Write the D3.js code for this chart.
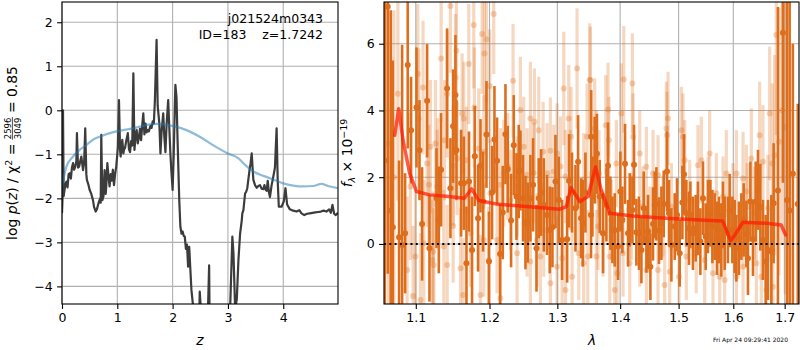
<!DOCTYPE html>
<html>
<head>
<meta charset="utf-8">
<script src="https://cdn.jsdelivr.net/npm/d3@7"></script>
<style>
  body { margin: 0; background: #fff; }
  svg { font-family: "DejaVu Sans", sans-serif; }
</style>
</head>
<body>
<svg id="chart" width="800" height="350"></svg>
<script>
// ---- Left panel: redshift probability ----
const zTicks = [0, 1, 2, 3, 4];
const pzTicks = [-4, -3, -2, -1, 0, 1, 2];
const pzZ = [0.000, 0.012, 0.018, 0.030, 0.036, 0.06, 0.08, 0.10, 0.12, 0.14, 0.16, 0.18, 0.20, 0.22, 0.24, 0.26, 0.27, 0.29, 0.31, 0.33,
  0.35, 0.37, 0.38, 0.40, 0.42, 0.44, 0.45, 0.48, 0.50, 0.53, 0.56, 0.58, 0.61, 0.63, 0.66, 0.69, 0.70, 0.71, 0.73, 0.75,
  0.77, 0.79, 0.80, 0.82, 0.84, 0.86, 0.88, 0.90, 0.92, 0.94, 0.96, 0.98, 1.00, 1.01, 1.03, 1.05, 1.06, 1.08, 1.09, 1.11,
  1.12, 1.14, 1.16, 1.19, 1.21, 1.23, 1.25, 1.27, 1.29, 1.31, 1.33, 1.35, 1.37, 1.39, 1.41, 1.43, 1.45, 1.47, 1.49, 1.51,
  1.53, 1.55, 1.57, 1.60, 1.62, 1.64, 1.66, 1.68, 1.71, 1.73, 1.76, 1.78, 1.80, 1.83, 1.85, 1.87, 1.89, 1.92, 1.94, 1.96,
  1.98, 2.00, 2.02, 2.04, 2.05, 2.07, 2.09, 2.12, 2.14, 2.16, 2.18, 2.20, 2.22, 2.24, 2.26, 2.28, 2.30, 2.32, 2.34, 2.37,
  2.40, 2.45, 2.48, 2.49, 2.51, 2.53, 2.60, 2.64, 2.66, 2.67, 2.75, 2.90, 3.00, 3.04, 3.08, 3.10, 3.13, 3.16, 3.19, 3.22,
  3.25, 3.26, 3.28, 3.31, 3.33, 3.35, 3.39, 3.41, 3.43, 3.45, 3.46, 3.49, 3.52, 3.55, 3.58, 3.61, 3.64, 3.66, 3.68, 3.70,
  3.72, 3.74, 3.76, 3.79, 3.82, 3.85, 3.88, 3.90, 3.92, 3.97, 4.01, 4.04, 4.07, 4.12, 4.18, 4.24, 4.29, 4.33, 4.38, 4.43,
  4.48, 4.53, 4.58, 4.63, 4.68, 4.73, 4.78, 4.83, 4.86, 4.89, 4.92, 4.95, 4.99];
const pzLog = [-2.34, -1.90, 0.00, -1.95, -1.89, -1.70, -1.62, -1.75, -1.45, -1.43, -1.55, -1.30, -1.20, -1.35, -1.28, -1.15, -0.52, -1.30, -1.28, -1.15,
  -1.05, -1.25, -1.36, -1.20, -0.41, -1.45, -1.58, -1.70, -1.81, -1.90, -2.04, -2.20, -2.30, -2.25, -2.11, -2.00, -2.10, -0.56, -2.04, -1.95,
  -1.36, -1.90, -1.73, -1.20, -1.50, -1.73, -1.45, -1.60, -1.35, -1.70, -1.45, -1.28, -1.00, -0.83, 0.23, -0.90, -1.05, -0.80, -0.67, -0.98,
  -0.90, -0.85, -0.70, -0.52, -0.88, -0.95, -0.70, -0.80, 0.84, -0.90, -0.60, -0.45, -0.75, -0.62, -0.42, -0.68, -0.35, -0.07, -0.55, -0.30,
  -0.50, -0.45, -0.48, -0.35, -0.40, -0.25, -0.30, 0.23, 1.60, 0.10, -0.30, -0.98, -0.50, -0.07, -0.60, -0.95, -0.35, 0.23, -0.40, -1.00,
  -1.43, -1.81, -1.00, 0.10, 0.58, 0.30, -0.70, -2.04, -2.64, -2.80, -2.75, -2.85, -2.87, -3.15, -3.05, -3.55, -3.10, -3.60, -4.08, -4.45,
  -5.50, -6.20, -4.80, -4.12, -4.50, -5.20, -5.80, -4.50, -3.52, -5.00, -6.00, -6.50, -5.50, -4.50, -2.87, -3.25, -4.50, -4.30, -3.40, -2.80,
  -2.50, -2.34, -2.27, -1.89, -1.85, -1.77, -1.36, -1.20, -0.98, -1.40, -1.58, -1.70, -1.76, -1.72, -1.70, -1.78, -1.79, -1.70, -1.80, -1.83,
  -1.60, -1.85, -1.97, -1.70, -1.51, -1.30, -0.41, -1.60, -2.19, -2.19, -2.07, -1.77, -2.14, -2.25, -2.28, -2.30, -2.27, -2.34, -2.38, -2.35,
  -2.34, -2.33, -2.32, -2.31, -2.30, -2.28, -2.30, -2.25, -2.33, -2.15, -2.35, -2.38, -2.33];
const priorZ = [0.00, 0.08, 0.20, 0.32, 0.44, 0.56, 0.68, 0.98, 1.29, 1.59, 1.71, 2.01, 2.25, 2.49, 2.73, 3.00, 3.19, 3.31, 3.46, 3.64,
  3.82, 4.00, 4.18, 4.36, 4.54, 4.69, 4.81, 4.99];
const priorLog = [-1.73, -1.28, -1.05, -0.90, -0.79, -0.67, -0.60, -0.48, -0.41, -0.32, -0.31, -0.36, -0.45, -0.60, -0.79, -0.98, -1.09, -1.24, -1.39, -1.49,
  -1.57, -1.66, -1.71, -1.73, -1.72, -1.67, -1.72, -1.77];

// ---- Right panel: spectrum ----
const lamTicks = [1.1, 1.2, 1.3, 1.4, 1.5, 1.6, 1.7];
const fluxTicks = [0, 2, 4, 6];
const darkLam = [1.0605, 1.0642, 1.0680, 1.0706, 1.0785, 1.0824, 1.0862, 1.0896, 1.0939, 1.1009, 1.1048, 1.1082, 1.1148, 1.1179, 1.1272, 1.1303, 1.1333, 1.1414, 1.1459, 1.1495,
  1.1527, 1.1541, 1.1604, 1.1641, 1.1678, 1.1713, 1.1755, 1.1793, 1.1839, 1.1873, 1.1909, 1.1957, 1.1993, 1.2036, 1.2070, 1.2107, 1.2150, 1.2189, 1.2228, 1.2261,
  1.2309, 1.2348, 1.2388, 1.2421, 1.2446, 1.2484, 1.2520, 1.2554, 1.2593, 1.2633, 1.2684, 1.2718, 1.2753, 1.2794, 1.2843, 1.2884, 1.2925, 1.2971, 1.3022, 1.3073,
  1.3151, 1.3181, 1.3227, 1.3281, 1.3322, 1.3369, 1.3395, 1.3438, 1.3527, 1.3530, 1.3549, 1.3585, 1.3622, 1.3666, 1.3720, 1.3775, 1.3801, 1.3840, 1.3873, 1.3911,
  1.3965, 1.4004, 1.4037, 1.4081, 1.4131, 1.4159, 1.4204, 1.4231, 1.4271, 1.4315, 1.4356, 1.4395, 1.4441, 1.4468, 1.4509, 1.4554, 1.4583, 1.4612, 1.4657, 1.4699,
  1.4739, 1.4796, 1.4831, 1.4873, 1.4931, 1.4972, 1.5019, 1.5067, 1.5096, 1.5138, 1.5185, 1.5210, 1.5256, 1.5305, 1.5346, 1.5390, 1.5438, 1.5487, 1.5529, 1.5573,
  1.5610, 1.5652, 1.5695, 1.5732, 1.5776, 1.5806, 1.5838, 1.5899, 1.5931, 1.5982, 1.6026, 1.6058, 1.6107, 1.6153, 1.6197, 1.6249, 1.6279, 1.6326, 1.6376, 1.6428,
  1.6473, 1.6519, 1.6570, 1.6623, 1.6668, 1.6735, 1.6780, 1.6865, 1.6965, 1.7046, 1.7100, 1.7165, 1.7265];
const darkFlux = [2.5, 7.11, 1.0, 0.5, 0.2, -0.03, 0.32, 5.36, 3.41, 4.09, 2.81, 0.60, 4.29, -0.13, 1.37, 0.72, 2.22, 4.66, 1.67, 3.53,
  4.46, 2.81, 1.82, 1.82, -0.58, 1.87, -0.18, 2.63, 0.77, 2.34, 1.27, 3.28, -0.53, 1.54, 3.13, 2.49, -0.30, 0.94, 3.29, 2.24,
  0.70, 2.96, 1.42, 2.17, 2.20, 1.37, 0.64, 0.64, 1.37, 1.77, -0.13, 1.37, 1.54, 1.17, 0.87, 0.42, 0.50, 1.87, 1.32, 0.12,
  0.14, 1.89, 1.54, 1.07, 2.46, 0.77, 0.62, 1.54, 0.87, 3.21, 1.42, 2.51, 2.70, 1.42, 0.32, 1.17, 2.34, 0.92, 0.42, 0.42,
  -0.08, 1.57, 0.72, 2.40, 0.32, 1.02, 1.02, 2.37, 0.35, 0.32, -0.18, 1.07, 0.14, 0.37, -0.68, 0.60, 1.17, 1.20, 0.40, 0.62,
  1.20, 2.17, 0.92, -0.03, 0.52, 0.87, -0.28, 1.24, 2.09, 0.92, 0.47, 0.87, 0.32, 0.47, 0.77, 0.07, 1.37, 0.22, 0.82, 0.92,
  0.52, 0.52, 0.17, 0.42, 0.12, 0.87, 0.32, 0.42, 1.00, 0.42, 0.22, -0.13, 0.17, 0.52, 0.72, 0.30, -0.43, 1.27, 0.14, 1.27,
  1.62, 1.10, 0.12, -0.53, -0.18, -0.23, 1.22, 1.60, 6.33, 1.32, 1.00, 2.10, 1.20];
const darkErr = [7.0, 8.0, 6.0, 5.0, 2.3, 6.0, 1.8, 2.5, 1.6, 1.8, 1.5, 1.7, 1.7, 1.6, 1.5, 1.6, 1.7, 1.8, 1.5, 1.7,
  1.8, 1.5, 1.6, 1.4, 1.7, 1.5, 1.6, 1.5, 1.6, 1.4, 1.5, 1.6, 1.5, 1.4, 1.6, 1.3, 1.5, 1.4, 1.5, 1.3,
  1.4, 1.5, 1.3, 1.4, 1.2, 1.3, 1.4, 1.2, 1.3, 1.4, 1.3, 1.2, 1.3, 1.4, 1.2, 1.3, 1.2, 1.4, 1.3, 1.2,
  1.3, 1.4, 1.2, 1.3, 1.4, 1.2, 1.3, 1.2, 1.3, 1.4, 1.2, 1.3, 1.2, 1.1, 1.2, 1.1, 1.3, 1.1, 1.0, 1.1,
  1.0, 1.2, 1.0, 1.2, 1.0, 1.1, 1.0, 1.2, 1.0, 1.1, 1.0, 1.1, 1.0, 1.1, 1.0, 1.1, 1.0, 1.1, 1.0, 1.1,
  1.0, 1.2, 1.0, 1.1, 1.0, 1.1, 1.0, 1.1, 1.2, 1.0, 1.1, 1.0, 1.1, 1.0, 1.1, 1.0, 1.1, 1.0, 1.1, 1.0,
  1.1, 1.0, 1.1, 1.0, 1.1, 1.0, 1.1, 1.0, 1.1, 1.0, 1.1, 1.0, 1.1, 1.0, 1.1, 1.0, 1.1, 1.2, 1.1, 1.2,
  1.2, 1.3, 1.2, 1.4, 1.5, 1.7, 1.8, 5.5, 4.5, 6.5, 7.0, 3.9, 3.0];
const lightLam = [1.0650, 1.0720, 1.0770, 1.1459, 1.1779, 1.1896, 1.1957, 1.1928, 1.1541, 1.1334, 1.1710, 1.1026, 1.1095, 1.1415, 1.2060, 1.2003, 1.1788, 1.1528, 1.1618, 1.1641,
  1.1258, 1.1379, 1.1192, 1.1039, 1.1148, 1.0931, 1.1170, 1.1289, 1.1496, 1.1550, 1.1849, 1.1678, 1.1919, 1.2013, 1.2155, 1.2261, 1.2338, 1.2445, 1.2593, 1.2653,
  1.2494, 1.2718, 1.2783, 1.2894, 1.2996, 1.3099, 1.3176, 1.3213, 1.3306, 1.3464, 1.3506, 1.2843, 1.2945, 1.3048, 1.3125, 1.3202, 1.3411, 1.2643, 1.2544, 1.2397,
  1.2203, 1.2300, 1.1281, 1.1227, 1.1236, 1.1415, 1.1496, 1.1596, 1.1632, 1.1872, 1.2155, 1.1988, 1.1061, 1.0965, 1.0888, 1.0995, 1.1104, 1.1214, 1.1370, 1.1733,
  1.1919, 1.2107, 1.2397, 1.2593, 1.2743, 1.2894, 1.2996, 1.3125, 1.3228, 1.3332, 1.3411, 1.3475, 1.2544, 1.2793, 1.3073, 1.2693, 1.3517, 1.3586, 1.3613, 1.3655,
  1.3764, 1.3802, 1.3815, 1.3938, 1.4021, 1.4060, 1.4204, 1.4215, 1.4327, 1.4440, 1.4554, 1.4640, 1.4785, 1.4797, 1.4814, 1.5049, 1.5078, 1.5108, 1.5347, 1.5408,
  1.5560, 1.5683, 1.5869, 1.6058, 1.6185, 1.6248, 1.6344, 1.6505, 1.6570, 1.6701, 1.6754, 1.6833, 1.6886, 1.6800, 1.3613, 1.3720, 1.3829, 1.3911, 1.3949, 1.4048,
  1.4159, 1.4327, 1.4440, 1.4640, 1.4756, 1.4843, 1.5007, 1.5137, 1.5316, 1.5469, 1.5621, 1.5745, 1.5838, 1.6058, 1.6185, 1.6441, 1.6538, 1.6636, 1.6767, 1.3639,
  1.3856, 1.4187, 1.4384, 1.4497, 1.4727, 1.4872, 1.5197, 1.5530, 1.5807, 1.5994, 1.6265, 1.6408, 1.6668, 1.6950, 1.7010];
const lightFlux = [3.0, 2.0, 4.5, 7.13, 6.56, 6.29, 6.13, 5.71, 5.79, 5.56, 5.39, 5.09, 4.69, 4.49, 6.89, 4.73, 4.09, 4.99, 3.91, 3.76,
  3.01, 3.11, 2.91, 3.76, 2.41, 1.72, 1.77, 2.07, 2.34, 2.56, 2.86, 2.51, 2.76, 1.52, 1.77, 2.32, 4.89, 4.01, 3.76, 3.66,
  2.91, 3.41, 2.76, 2.79, 2.71, 4.66, 3.76, 3.21, 5.26, 3.21, 4.91, 2.12, 2.17, 2.32, 2.02, 1.92, 1.92, 2.12, 2.07, 1.72,
  2.12, 1.32, 1.72, -0.23, -0.63, -0.63, 0.54, -0.73, -1.53, -1.53, -1.63, -0.48, -1.68, -1.56, -0.78, -0.38, 0.02, -0.48, -0.08, 0.32,
  0.12, 0.12, -0.28, -0.53, -0.38, -1.18, -0.68, -1.38, -0.98, -0.28, -0.58, -0.38, 0.52, 0.42, -0.43, 0.12, 4.91, 3.46, 2.61, 2.11,
  3.56, 4.03, 3.11, 2.41, 3.91, 4.93, 4.81, 3.21, 2.71, 2.31, 2.11, 2.06, 3.46, 3.26, 3.76, 3.41, 3.21, 2.51, 2.36, 2.51,
  2.71, 1.52, 2.11, 2.11, 1.96, 1.57, 2.56, 3.26, 2.46, 3.91, 2.41, 6.26, 3.06, 2.66, -0.38, 0.32, -0.38, -1.38, -0.88, -0.28,
  -0.58, 0.02, -0.78, -0.78, -1.23, -0.83, -0.98, -0.38, -0.28, -0.48, -0.88, -0.98, -1.08, -0.98, -0.68, -0.58, -0.98, -1.38, -1.28, 0.52,
  0.72, 0.82, 1.12, 0.42, 0.82, 1.12, 1.32, 1.32, 1.42, 1.12, 1.12, 0.92, 1.07, 4.0, 3.5];
const lightErr = [6.0, 5.0, 3.2, 2.0, 1.9, 1.8, 1.9, 1.7, 2.0, 1.9, 1.8, 2.1, 2.0, 1.9, 1.8, 1.7, 1.8, 1.9, 1.8, 1.7,
  1.9, 1.8, 2.0, 2.1, 1.9, 2.2, 1.8, 1.7, 1.8, 1.7, 1.8, 1.6, 1.7, 1.6, 1.7, 1.6, 1.7, 1.6, 1.7, 1.6,
  1.5, 1.6, 1.5, 1.6, 1.5, 1.7, 1.6, 1.5, 1.8, 1.6, 1.7, 1.5, 1.4, 1.5, 1.4, 1.5, 1.4, 1.5, 1.4, 1.5,
  1.6, 1.5, 1.7, 1.8, 1.7, 1.8, 1.7, 1.8, 1.7, 1.8, 1.7, 1.6, 2.0, 2.1, 2.2, 2.0, 1.9, 1.8, 1.7, 1.6,
  1.7, 1.6, 1.5, 1.6, 1.5, 1.6, 1.5, 1.6, 1.5, 1.4, 1.5, 1.4, 1.5, 1.4, 1.5, 1.4, 1.6, 1.5, 1.4, 1.3,
  1.5, 1.4, 1.3, 1.3, 1.5, 1.6, 1.5, 1.3, 1.3, 1.2, 1.3, 1.2, 1.4, 1.3, 1.4, 1.3, 1.3, 1.2, 1.2, 1.3,
  1.3, 1.2, 1.3, 1.3, 1.4, 1.4, 1.5, 1.6, 1.7, 2.0, 2.4, 3.0, 4.0, 3.0, 1.4, 1.3, 1.4, 1.3, 1.3, 1.3,
  1.2, 1.3, 1.2, 1.3, 1.2, 1.3, 1.2, 1.3, 1.2, 1.3, 1.2, 1.3, 1.2, 1.3, 1.3, 1.4, 1.5, 1.6, 1.8, 1.3,
  1.2, 1.3, 1.2, 1.3, 1.2, 1.3, 1.2, 1.3, 1.2, 1.3, 1.3, 1.4, 1.6, 4.0, 5.0];
const modelLam = [1.073, 1.078, 1.0836, 1.092, 1.101, 1.118, 1.140, 1.165, 1.175, 1.185, 1.197, 1.209, 1.253, 1.304, 1.314, 1.321, 1.335, 1.348, 1.360, 1.369,
  1.383, 1.421, 1.478, 1.538, 1.580, 1.587, 1.595, 1.603, 1.618, 1.664, 1.693, 1.702];
const modelFlux = [3.26, 4.05, 3.11, 2.12, 1.57, 1.47, 1.43, 1.37, 1.65, 1.30, 1.25, 1.20, 1.12, 1.04, 1.12, 1.69, 1.27, 1.42, 2.31, 1.62,
  0.92, 0.84, 0.77, 0.72, 0.69, 0.42, 0.10, 0.27, 0.65, 0.62, 0.57, 0.27];

const ORANGE = "#de6e1c";
const GRID = "#b0b0b0";
const svg = d3.select("#chart");

// Frame, grid and axes for one panel
function DrawAxes(box, x, y, xTicks, yTicks, xFmt, yFmt) {
    const grid = svg.append("g");
    grid.selectAll(".gx").data(xTicks).join("line")
        .attr("x1", d => x(d)).attr("x2", d => x(d))
        .attr("y1", box.top).attr("y2", box.bottom)
        .attr("stroke", GRID).attr("stroke-width", 1.1);
    grid.selectAll(".gy").data(yTicks).join("line")
        .attr("x1", box.left).attr("x2", box.right)
        .attr("y1", d => y(d)).attr("y2", d => y(d))
        .attr("stroke", GRID).attr("stroke-width", 1.1);
}

function FinishAxes(box, x, y, xTicks, yTicks, xFmt, yFmt) {
    const ax = svg.append("g").attr("transform", `translate(0,${box.bottom})`)
        .call(d3.axisBottom(x).tickValues(xTicks).tickFormat(xFmt).tickSize(4.9).tickPadding(4.5));
    const ay = svg.append("g").attr("transform", `translate(${box.left},0)`)
        .call(d3.axisLeft(y).tickValues(yTicks).tickFormat(yFmt).tickSize(4.9).tickPadding(4.5));
    [ax, ay].forEach(a => {
        a.select(".domain").remove();
        a.selectAll("line").attr("stroke", "#000").attr("stroke-width", 1.1);
        a.selectAll("text").attr("font-size", 12.5).attr("fill", "#000")
            .attr("font-family", "DejaVu Sans, sans-serif");
    });
    svg.append("rect").attr("x", box.left).attr("y", box.top)
        .attr("width", box.right - box.left).attr("height", box.bottom - box.top)
        .attr("fill", "none").attr("stroke", "#000").attr("stroke-width", 1.1);
}

// ---------- Left panel ----------
const LB = {left: 62, right: 338, top: 2, bottom: 304};
const xz = d3.scaleLinear().domain([0, 4.99]).range([LB.left, LB.right]);
const yp = d3.scaleLinear().domain([-4.40, 2.46]).range([LB.bottom, LB.top]);

DrawAxes(LB, xz, yp, zTicks, pzTicks);
svg.append("clipPath").attr("id", "clipL").append("rect")
    .attr("x", LB.left).attr("y", LB.top).attr("width", LB.right - LB.left).attr("height", LB.bottom - LB.top);

const pzLine = d3.line().x(d => xz(d[0])).y(d => yp(d[1]));
svg.append("path").attr("clip-path", "url(#clipL)")
    .datum(d3.zip(pzZ, pzLog))
    .attr("d", pzLine).attr("fill", "none")
    .attr("stroke", "#3c3c3c").attr("stroke-width", 2.2).attr("stroke-linejoin", "round");
svg.append("path").attr("clip-path", "url(#clipL)")
    .datum(d3.zip(priorZ, priorLog))
    .attr("d", pzLine.curve(d3.curveMonotoneX)).attr("fill", "none")
    .attr("stroke", "#1f77b4").attr("stroke-opacity", 0.5).attr("stroke-width", 2.2);

FinishAxes(LB, xz, yp, zTicks, pzTicks, d3.format("d"), d3.format("d"));

svg.append("text").attr("x", 323).attr("y", 23).attr("text-anchor", "end")
    .attr("font-size", 12.5).text("j021524m0343");
svg.append("text").attr("x", 323).attr("y", 39).attr("text-anchor", "end")
    .attr("font-size", 12.5).attr("xml:space", "preserve").style("white-space", "pre")
    .text("ID=183    z=1.7242");

svg.append("text").attr("x", 200).attr("y", 345).attr("text-anchor", "middle")
    .attr("font-size", 13.9).attr("font-style", "italic").text("z");

// y label with the chi-square fraction
const yl = svg.append("g");
const t1 = yl.append("text").attr("font-size", 13.9);
t1.append("tspan").text("log ");
t1.append("tspan").attr("font-style", "italic").text("p");
t1.append("tspan").text("(");
t1.append("tspan").attr("font-style", "italic").text("z");
t1.append("tspan").text(") / χ");
t1.append("tspan").attr("font-size", 9.5).attr("dy", -5.5).text("2");
t1.append("tspan").attr("dy", 5.5).text(" =");
const w1 = t1.node().getComputedTextLength();
const fx = w1 + 4;
const num = yl.append("text").attr("font-size", 8.5).attr("y", -6.5).attr("text-anchor", "middle").text("2596");
const wf = num.node().getComputedTextLength() + 1;
num.attr("x", fx + wf / 2);
yl.append("text").attr("font-size", 8.5).attr("y", 3.6).attr("text-anchor", "middle")
    .attr("x", fx + wf / 2).text("3049");
yl.append("line").attr("x1", fx).attr("x2", fx + wf).attr("y1", -4.6).attr("y2", -4.6)
    .attr("stroke", "#000").attr("stroke-width", 0.7);
const t3 = yl.append("text").attr("font-size", 13.9).attr("x", fx + wf + 4).text("= 0.85");
const wTot = fx + wf + 4 + t3.node().getComputedTextLength();
yl.attr("transform", `translate(17,153) rotate(-90) translate(${-wTot / 2},0)`);

// ---------- Right panel ----------
const RB = {left: 384, right: 799, top: 2, bottom: 304};
const xl = d3.scaleLog().domain([1.0595, 1.729]).range([RB.left, RB.right]);
const yf = d3.scaleLinear().domain([-1.80, 7.25]).range([RB.bottom, RB.top]);

DrawAxes(RB, xl, yf, lamTicks, fluxTicks);
svg.append("clipPath").attr("id", "clipR").append("rect")
    .attr("x", RB.left).attr("y", RB.top).attr("width", RB.right - RB.left).attr("height", RB.bottom - RB.top);
const spec = svg.append("g").attr("clip-path", "url(#clipR)");

const light = lightLam.map((l, i) => ({l, f: lightFlux[i], e: lightErr[i]}));
const dark = darkLam.map((l, i) => ({l, f: darkFlux[i], e: darkErr[i]}));

spec.append("g").selectAll("line").data(light).join("line")
    .attr("x1", d => xl(d.l)).attr("x2", d => xl(d.l))
    .attr("y1", d => yf(d.f - d.e)).attr("y2", d => yf(d.f + d.e))
    .attr("stroke", ORANGE).attr("stroke-opacity", 0.28).attr("stroke-width", 3.2);
spec.append("g").selectAll("circle").data(light).join("circle")
    .attr("cx", d => xl(d.l)).attr("cy", d => yf(d.f)).attr("r", 3)
    .attr("fill", ORANGE).attr("fill-opacity", 0.3);

spec.append("g").selectAll("line").data(dark).join("line")
    .attr("x1", d => xl(d.l)).attr("x2", d => xl(d.l))
    .attr("y1", d => yf(d.f - d.e)).attr("y2", d => yf(d.f + d.e))
    .attr("stroke", ORANGE).attr("stroke-width", 2.6);
spec.append("g").selectAll("circle").data(dark).join("circle")
    .attr("cx", d => xl(d.l)).attr("cy", d => yf(d.f)).attr("r", 3)
    .attr("fill", ORANGE);

spec.append("path").datum(d3.zip(modelLam, modelFlux))
    .attr("d", d3.line().x(d => xl(d[0])).y(d => yf(d[1])))
    .attr("fill", "none").attr("stroke", "#ff1a00").attr("stroke-opacity", 0.72)
    .attr("stroke-width", 3.5).attr("stroke-linejoin", "round").attr("stroke-linecap", "round");

spec.append("line").attr("x1", RB.left).attr("x2", RB.right)
    .attr("y1", yf(0)).attr("y2", yf(0))
    .attr("stroke", "#000").attr("stroke-width", 2).attr("stroke-dasharray", "2,3.3");

FinishAxes(RB, xl, yf, lamTicks, fluxTicks, d3.format(".1f"), d3.format("d"));

svg.append("text").attr("x", 592).attr("y", 345).attr("text-anchor", "middle")
    .attr("font-size", 13.9).attr("font-style", "italic").text("λ");

const yr = svg.append("text").attr("font-size", 13.9).attr("text-anchor", "middle")
    .attr("transform", "translate(352,153) rotate(-90)");
yr.append("tspan").attr("font-style", "italic").text("f");
yr.append("tspan").attr("font-style", "italic").attr("font-size", 9.5).attr("dy", 3).text("λ");
yr.append("tspan").attr("dy", -3).text(" × 10");
yr.append("tspan").attr("font-size", 9.5).attr("dy", -5.5).text("−19");

svg.append("text").attr("x", 788).attr("y", 342).attr("text-anchor", "end")
    .attr("font-size", 6).text("Fri Apr 24 09:29:41 2020");
</script>
</body>
</html>
